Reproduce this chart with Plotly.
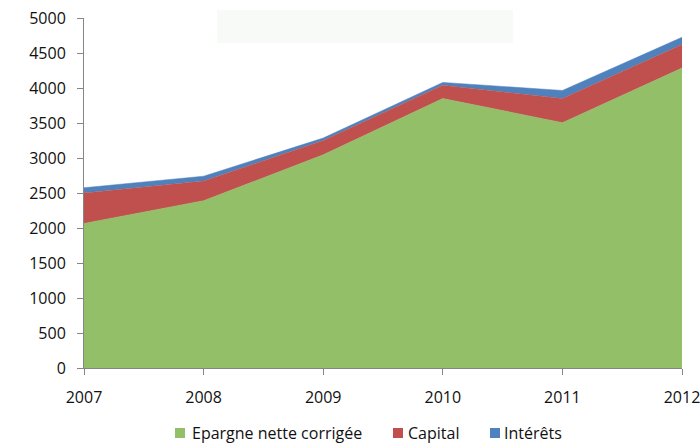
import plotly.graph_objects as go

years = [2007, 2008, 2009, 2010, 2011, 2012]
epargne = [2065, 2390, 3045, 3850, 3505, 4285]
capital = [435, 280, 205, 190, 345, 335]
interets = [75, 70, 35, 40, 115, 105]

names = ["Epargne nette corrigée", "Capital", "Intérêts"]
colors = ["#93BF69", "#C0504D", "#4F81BD"]

W, H = 700, 445
L, R, T, B = 84, 18, 18, 77
PW, PH = W - L - R, H - T - B


def px(x):
    return (x - L) / PW


def py(y):
    return (H - B - y) / PH


fig = go.Figure()
for name, vals, col in zip(names, [epargne, capital, interets], colors):
    fig.add_trace(go.Scatter(
        x=years, y=vals, name=name, stackgroup="one", mode="lines",
        line=dict(width=0.5, color=col), fillcolor=col, showlegend=False,
    ))

shapes = [dict(type="rect", xref="paper", yref="paper",
               x0=px(217), x1=px(513), y0=py(43), y1=py(10),
               fillcolor="#F8FAF7", line=dict(width=0), layer="below")]
annotations = []
leg_sq = [175, 393, 490]
leg_tx = [190, 406, 502]
leg_y = 433
for name, col, sx, tx in zip(names, colors, leg_sq, leg_tx):
    shapes.append(dict(type="rect", xref="paper", yref="paper",
                       x0=px(sx), x1=px(sx + 10), y0=py(leg_y + 5), y1=py(leg_y - 5),
                       fillcolor=col, line=dict(width=0)))
    annotations.append(dict(text=name, xref="paper", yref="paper",
                            x=px(tx), y=py(leg_y), xanchor="left", yanchor="middle",
                            showarrow=False, font=dict(size=16, color="#111111")))

font = dict(family="'Open Sans', sans-serif", size=16, color="#111111")
fig.update_layout(
    width=W, height=H,
    margin=dict(l=L, r=R, t=T, b=B),
    paper_bgcolor="white", plot_bgcolor="white",
    font=font,
    showlegend=False,
    hovermode=False,
    xaxis=dict(range=[2007, 2012], tickvals=years, showgrid=False, zeroline=False,
               showline=True, linecolor="#868686", linewidth=1, automargin=False,
               ticks="outside", ticklen=6, tickcolor="#868686",
               ticklabelstandoff=9, ticklabeloverflow="allow"),
    yaxis=dict(range=[0, 5000], dtick=500, showgrid=False, zeroline=False,
               showline=True, linecolor="#868686", linewidth=1, automargin=False,
               ticks="outside", ticklen=6, tickcolor="#868686", ticklabelstandoff=8,
               ticklabeloverflow="allow"),
    shapes=shapes,
    annotations=annotations,
)
fig.write_html("out.html", config={"displayModeBar": False},
               post_script="document.body.style.margin='0';document.body.style.overflow='hidden';")
